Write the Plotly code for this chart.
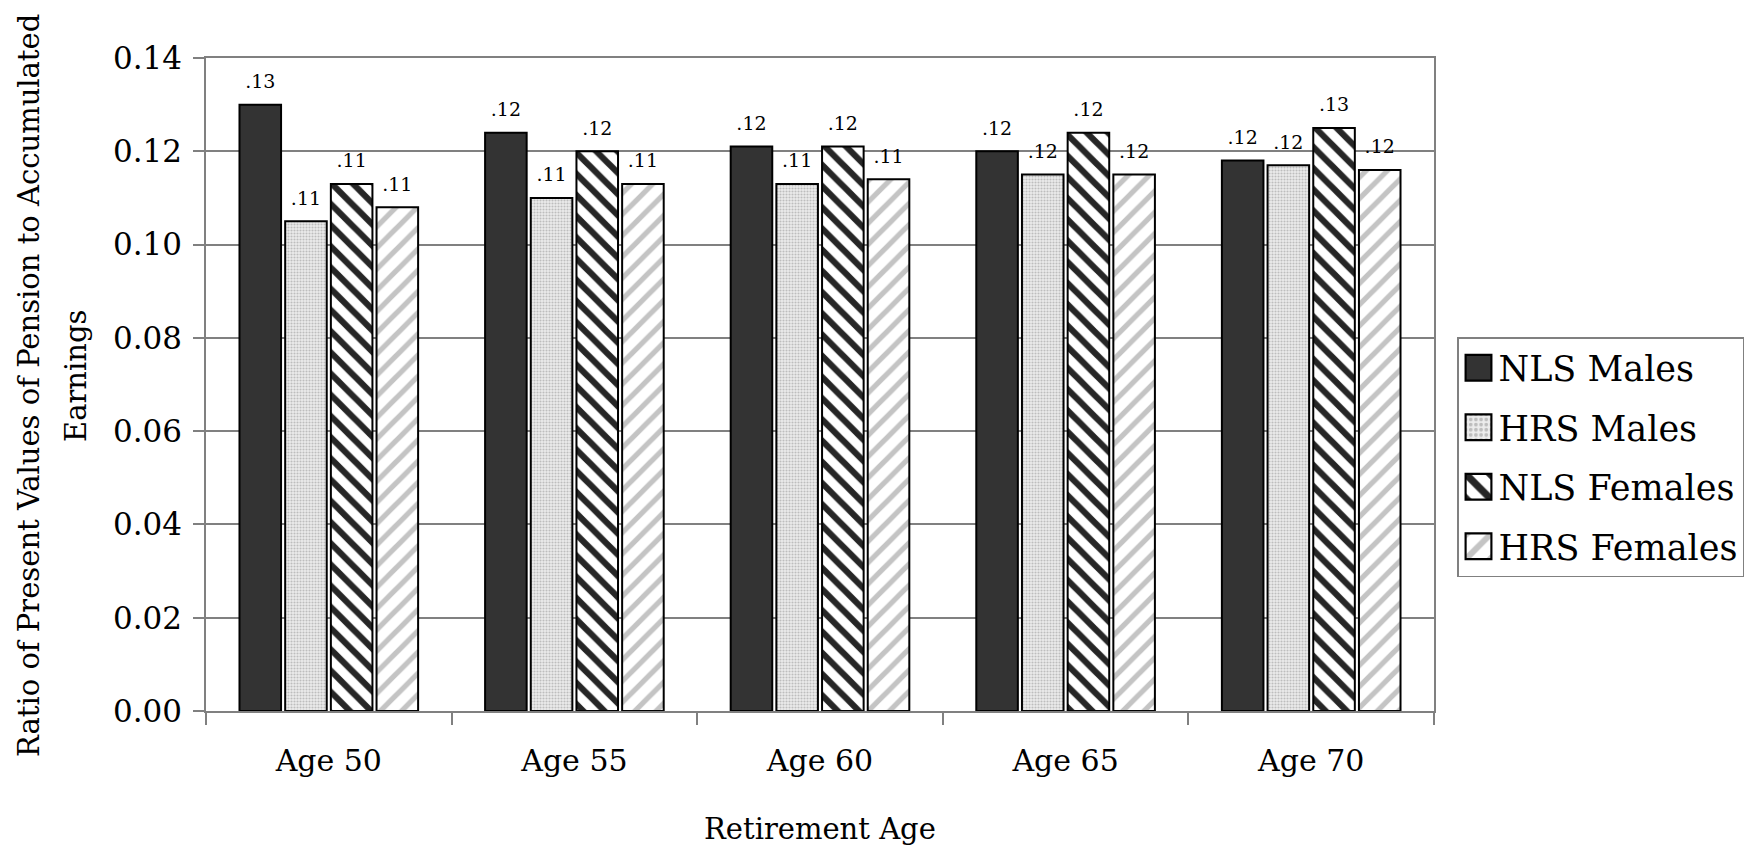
from decimal import Decimal, ROUND_HALF_UP

import plotly.graph_objects as go

# Retirement ages on the category axis
ages = ["Age 50", "Age 55", "Age 60", "Age 65", "Age 70"]

# Ratio of present value of pension to accumulated earnings, by sample
nls_males = [0.130, 0.124, 0.121, 0.120, 0.118]
hrs_males = [0.105, 0.110, 0.113, 0.115, 0.117]
nls_females = [0.113, 0.120, 0.121, 0.124, 0.125]
hrs_females = [0.108, 0.113, 0.114, 0.115, 0.116]

y_ticks = [0.00, 0.02, 0.04, 0.06, 0.08, 0.10, 0.12, 0.14]

y_title_lines = ["Ratio of Present Values of Pension to Accumulated", "Earnings"]
x_title = "Retirement Age"

SERIF = "DejaVu Serif"
LABEL_PX = 19


def short_label(v):
    """Two-decimal label without the leading zero, e.g. 0.125 -> '.13'."""
    s = str(Decimal(str(v)).quantize(Decimal("0.01"), rounding=ROUND_HALF_UP))
    return s[1:] if s.startswith("0") else s


def bar_text(v):
    # value label plus a small blank line underneath, which lifts the label
    # a little further above the top of its bar
    return f"<span style='font-size:{LABEL_PX}px'>{short_label(v)}</span><br>&nbsp;"


series = [
    ("NLS Males", nls_males,
     dict(color="#333333")),
    ("HRS Males", hrs_males,
     dict(color="#dcdcdc",
          pattern=dict(shape=".", size=3, solidity=0.4,
                       fgcolor="#bdbdbd", bgcolor="#ececec", fillmode="replace"))),
    ("NLS Females", nls_females,
     dict(color="#ffffff",
          pattern=dict(shape="\\", size=15, solidity=0.42,
                       fgcolor="#262626", bgcolor="#ffffff", fillmode="replace"))),
    ("HRS Females", hrs_females,
     dict(color="#ffffff",
          pattern=dict(shape="/", size=15, solidity=0.35,
                       fgcolor="#c4c4c4", bgcolor="#ffffff", fillmode="replace"))),
]

fig = go.Figure()
for name, vals, marker in series:
    marker = dict(marker)
    marker["line"] = dict(color="#000000", width=2)
    fig.add_trace(go.Bar(
        name=name,
        legendgroup=name,
        x=ages,
        y=vals,
        marker=marker,
        text=[bar_text(v) for v in vals],
        textposition="outside",
        textfont=dict(family=SERIF, size=9, color="#000000"),
        cliponaxis=False,
    ))

W, H = 1762, 852
L, R, T, B = 206, 328, 58, 141
PW, PH = W - L - R, H - T - B

fig.update_layout(
    width=W,
    height=H,
    margin=dict(l=L, r=R, t=T, b=B),
    paper_bgcolor="#ffffff",
    plot_bgcolor="#ffffff",
    barmode="group",
    bargap=0.256,
    bargroupgap=0.09,
    font=dict(family=SERIF, size=31, color="#000000"),
    showlegend=True,
    legend=dict(
        x=(1457 - L) / PW, xanchor="left",
        y=(H - B - 337) / PH, yanchor="top",
        bgcolor="#ffffff",
        bordercolor="#808080",
        borderwidth=1.5,
        font=dict(family=SERIF, size=35, color="#000000"),
        itemwidth=30,
        tracegroupgap=11,
    ),
    xaxis=dict(
        type="category",
        showline=True,
        linecolor="#808080",
        linewidth=1.5,
        mirror=True,
        ticks="outside",
        tickson="boundaries",
        ticklen=12,
        tickcolor="#808080",
        tickwidth=1.5,
        ticklabelstandoff=22,
        tickfont=dict(family=SERIF, size=30),
        showgrid=False,
    ),
    yaxis=dict(
        range=[0, 0.14],
        tickvals=y_ticks,
        tickformat=".2f",
        showline=True,
        linecolor="#808080",
        linewidth=1.5,
        mirror=True,
        ticks="outside",
        ticklen=11,
        tickcolor="#808080",
        tickwidth=1.5,
        ticklabelstandoff=5,
        tickfont=dict(family=SERIF, size=31),
        showgrid=True,
        gridcolor="#808080",
        gridwidth=1.5,
        zeroline=False,
    ),
    annotations=[
        dict(
            text=y_title_lines[0],
            textangle=-90,
            xref="paper", yref="paper",
            x=(29 - L) / PW, y=(H - B - 386) / PH,
            xanchor="center", yanchor="middle",
            showarrow=False,
            font=dict(family=SERIF, size=29),
        ),
        dict(
            text=y_title_lines[1],
            textangle=-90,
            xref="paper", yref="paper",
            x=(76 - L) / PW, y=(H - B - 376) / PH,
            xanchor="center", yanchor="middle",
            showarrow=False,
            font=dict(family=SERIF, size=29),
        ),
        dict(
            text=x_title,
            xref="paper", yref="paper",
            x=0.5, y=-(829 - (H - B)) / PH,
            xanchor="center", yanchor="middle",
            showarrow=False,
            font=dict(family=SERIF, size=29),
        ),
    ],
)

# Enlarge the legend swatches so they sit at the height of the legend text
legend_swatches = """
var gd = document.getElementById('{plot_id}');
function growSwatches() {
  gd.querySelectorAll('.legend .legendpoints path').forEach(function (p) {
    var t = p.getAttribute('transform') || '';
    if (t.indexOf('scale') < 0) {
      p.setAttribute('transform', t + ' scale(2.15)');
      p.style.strokeWidth = '1px';
    }
  });
}
growSwatches();
gd.on('plotly_afterplot', growSwatches);
"""

fig.write_html("out.html", post_script=legend_swatches)
